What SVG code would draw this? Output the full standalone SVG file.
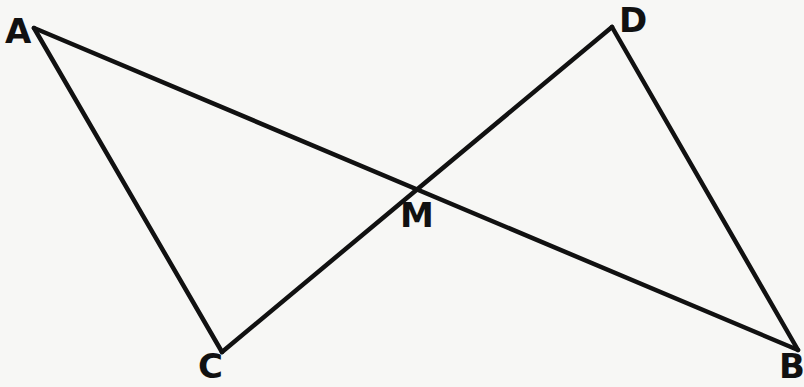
<svg xmlns="http://www.w3.org/2000/svg" width="804" height="387" viewBox="0 0 804 387">
<style>
.edge{stroke:#111;stroke-width:4.5;fill:none;stroke-linecap:round;stroke-linejoin:round}
.lbl{font-family:"DejaVu Sans","Liberation Sans",sans-serif;font-weight:bold;font-size:34px;fill:#111}
</style>
<rect width="804" height="387" fill="#f7f7f5"/>
<g id="connectors">
<line class="edge" x1="34" y1="28" x2="798" y2="350"/>
<line class="edge" x1="34" y1="28" x2="222" y2="352"/>
<line class="edge" x1="222" y1="352" x2="612" y2="27"/>
<line class="edge" x1="612" y1="27" x2="798" y2="350"/>
</g>
<g id="A"><text class="lbl" x="5" y="43">A</text></g>
<g id="D"><text class="lbl" x="619" y="32">D</text></g>
<g id="M"><text class="lbl" x="400" y="227">M</text></g>
<g id="C"><text class="lbl" x="198" y="378">C</text></g>
<g id="B"><text class="lbl" x="779" y="378">B</text></g>
</svg>
